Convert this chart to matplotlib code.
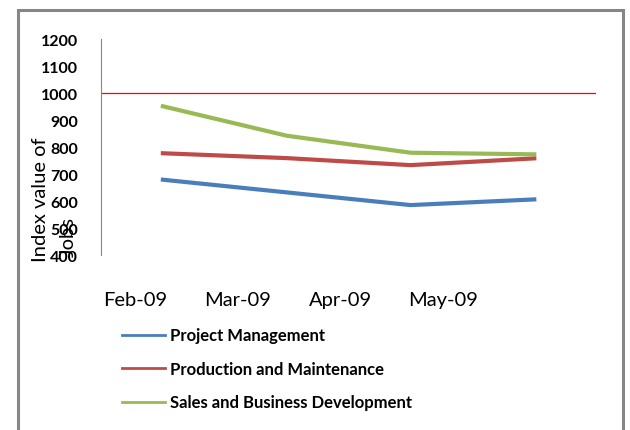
import matplotlib.pyplot as plt
from matplotlib.patches import Rectangle

months = ['Feb-09', 'Mar-09', 'Apr-09', 'May-09']
project_mgmt = [679, 632, 585, 606]
production = [777, 759, 733, 758]
sales = [951, 842, 779, 773]
target = 1000
y_ticks = [400, 500, 600, 700, 800, 900, 1000, 1100, 1200]

plt.rcParams['font.family'] = ['Lato', 'DejaVu Sans']

fig = plt.figure(figsize=(6.3, 4.31), dpi=100)
ax = fig.add_axes([0.1603, 0.406, 0.786, 0.501])

x = range(len(months))
ax.plot(x, project_mgmt, color='#4A7EBB', lw=3, label='Project Management')
ax.plot(x, production, color='#BE4B48', lw=3, label='Production and Maintenance')
ax.plot(x, sales, color='#98B954', lw=3, label='Sales and Business Development')
ax.axhline(target, color='red', lw=0.9)

ax.set_xlim(-0.5, 3.5)
ax.set_ylim(400, 1200)
ax.set_yticks(y_ticks)
ax.set_yticklabels([str(v) for v in y_ticks], fontweight='bold', fontsize=11.5)
# the category labels sit a bit left of the points in the original
ax.set_xticks([-0.225 + 0.83 * i for i in range(len(months))])
ax.set_xticklabels(months, fontsize=14.5)
ax.tick_params(axis='y', length=0, pad=16.5)
ax.tick_params(axis='x', length=0, pad=26)
for s in ['top', 'right', 'bottom']:
    ax.spines[s].set_visible(False)
ax.spines['left'].set_color('#868686')

fig.text(0.064, 0.392, 'Index value of', rotation=90, ha='center', va='bottom', fontsize=14.5)
fig.text(0.109, 0.404, 'Jobs', rotation=90, ha='center', va='bottom', fontsize=14.5)

ax.legend(loc='upper left', bbox_to_anchor=(0.193, 0.238), bbox_transform=fig.transFigure,
          frameon=False, borderpad=0, borderaxespad=0, handlelength=2.6, handletextpad=0.3,
          labelspacing=1.05, prop={'weight': 'bold', 'size': 12})
for line in ax.get_legend().get_lines():
    line.set_linewidth(2)

fig.patches.append(Rectangle((0.0278, -0.1), 0.9616, 1.075, transform=fig.transFigure,
                             fill=False, edgecolor='#868686', lw=2.2))

fig.savefig('out.png', dpi=100)
